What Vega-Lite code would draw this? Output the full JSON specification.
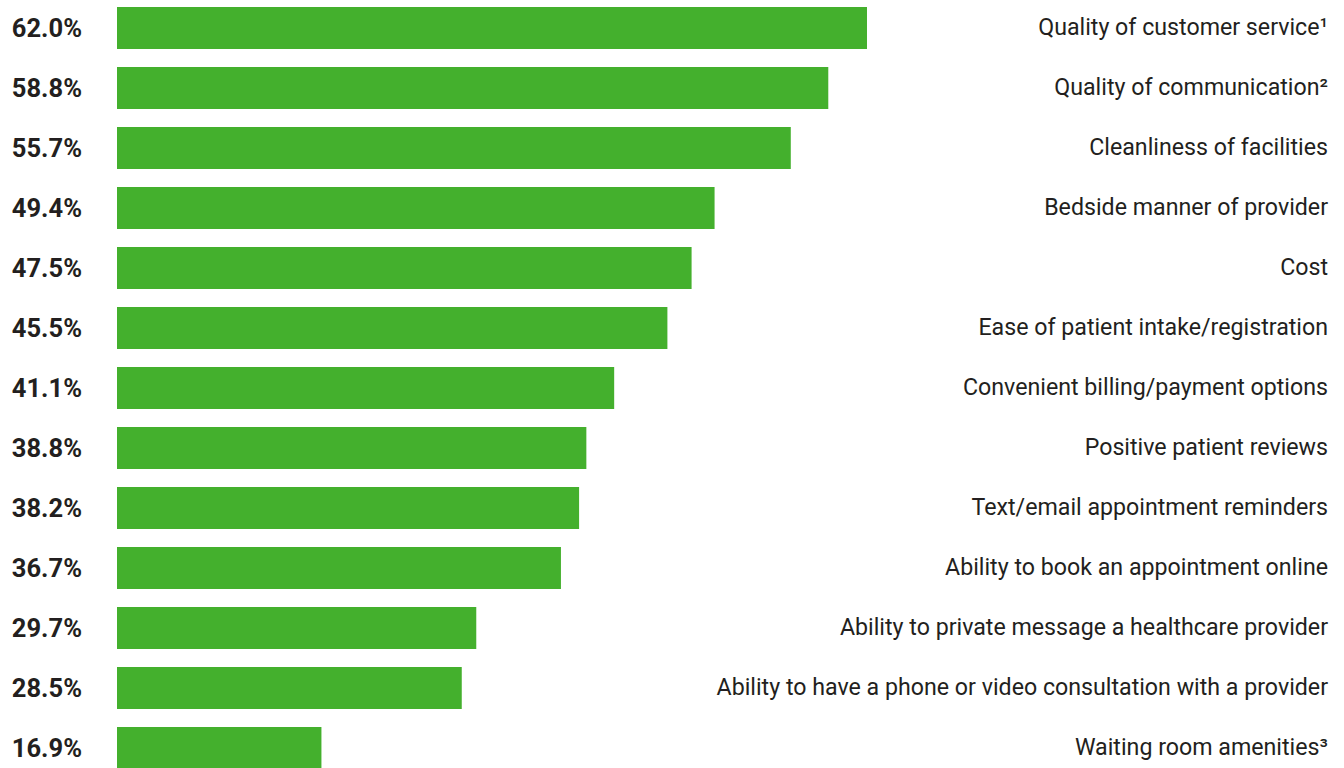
{
  "$schema": "https://vega.github.io/schema/vega-lite/v6.json",
  "width": 1211,
  "height": 776,
  "autosize": "none",
  "padding": {"left": 117, "top": 0, "right": 16, "bottom": 0},
  "background": "white",
  "config": {"view": {"stroke": null}},
  "data": {
    "values": [
      {"label": "Quality of customer service¹", "value": 62.0, "pct": "62.0%"},
      {"label": "Quality of communication²", "value": 58.8, "pct": "58.8%"},
      {"label": "Cleanliness of facilities", "value": 55.7, "pct": "55.7%"},
      {"label": "Bedside manner of provider", "value": 49.4, "pct": "49.4%"},
      {"label": "Cost", "value": 47.5, "pct": "47.5%"},
      {"label": "Ease of patient intake/registration", "value": 45.5, "pct": "45.5%"},
      {"label": "Convenient billing/payment options", "value": 41.1, "pct": "41.1%"},
      {"label": "Positive patient reviews", "value": 38.8, "pct": "38.8%"},
      {"label": "Text/email appointment reminders", "value": 38.2, "pct": "38.2%"},
      {"label": "Ability to book an appointment online", "value": 36.7, "pct": "36.7%"},
      {"label": "Ability to private message a healthcare provider", "value": 29.7, "pct": "29.7%"},
      {"label": "Ability to have a phone or video consultation with a provider", "value": 28.5, "pct": "28.5%"},
      {"label": "Waiting room amenities³", "value": 16.9, "pct": "16.9%"}
    ]
  },
  "encoding": {
    "y": {
      "field": "label",
      "type": "nominal",
      "sort": null,
      "axis": null,
      "scale": {"paddingInner": 0.3, "paddingOuter": 0.1167}
    }
  },
  "layer": [
    {
      "mark": {"type": "bar", "color": "#44B02D"},
      "encoding": {
        "x": {
          "field": "value",
          "type": "quantitative",
          "scale": {"domain": [0, 100.11], "nice": false, "zero": true},
          "axis": null
        }
      }
    },
    {
      "mark": {"type": "text", "align": "right", "baseline": "middle", "dx": -35, "dy": 1, "font": "Roboto", "fontWeight": "bold", "fontSize": 25.5, "color": "#231F20"},
      "encoding": {
        "x": {"value": 0},
        "text": {"field": "pct"}
      }
    },
    {
      "mark": {"type": "text", "align": "right", "baseline": "middle", "font": "Roboto", "fontSize": 23.2, "color": "#231F20"},
      "encoding": {
        "x": {"value": "width"},
        "text": {"field": "label"}
      }
    }
  ]
}
